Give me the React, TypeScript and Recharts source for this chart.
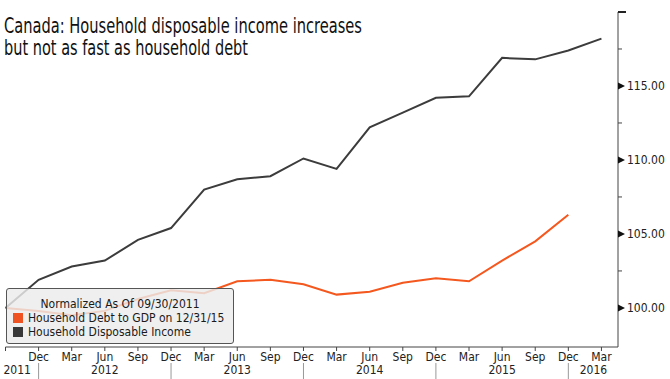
import React from 'react';
import { LineChart, Line, XAxis, YAxis } from 'recharts';

// quarter-end months, Sep 2011 .. Mar 2016
const months = ['Sep', 'Dec', 'Mar', 'Jun', 'Sep', 'Dec', 'Mar', 'Jun', 'Sep', 'Dec', 'Mar', 'Jun', 'Sep', 'Dec', 'Mar', 'Jun', 'Sep', 'Dec', 'Mar'];
const years = ['2011', '2012', '2013', '2014', '2015', '2016'];

// normalized to 100 at 09/30/2011
const incomeValues = [100.0, 101.9, 102.8, 103.2, 104.6, 105.4, 108.0, 108.7, 108.9, 110.1, 109.4, 112.2, 113.2, 114.2, 114.3, 116.9, 116.8, 117.4, 118.2];
const debtValues = [100.0, 99.8, 99.5, 99.8, 100.6, 101.2, 101.0, 101.8, 101.9, 101.6, 100.9, 101.1, 101.7, 102.0, 101.8, 103.2, 104.5, 106.3];

const yTicks = [100, 102.5, 105, 107.5, 110, 112.5, 115, 117.5, 120];

const ORANGE = '#f4581e';
const DARK = '#3c3c3c';
const FONT = "'DejaVu Sans Condensed', 'Liberation Sans', sans-serif";

const data = months.map((m, i) => ({
    i,
    month: m,
    income: incomeValues[i],
    debt: i < debtValues.length ? debtValues[i] : null,
}));

const MonthTick = ({ x, y, payload }: any) => {
    const i = payload.value;
    const isDec = months[i] === 'Dec';
    let yearLabel: any = null;
    if (i === 0) yearLabel = <text x={x - 2} y={374} fontSize={12} fill="#222" fontFamily={FONT}>{years[0]}</text>;
    if (months[i] === 'Jun') {
        const yr = years[Math.floor((i - 3) / 4) + 1];
        yearLabel = <text x={x} y={374} fontSize={12} fill="#222" textAnchor="middle" fontFamily={FONT}>{yr}</text>;
    }
    if (i === months.length - 1) yearLabel = <text x={x - 8} y={374} fontSize={12} fill="#222" textAnchor="middle" fontFamily={FONT}>{years[years.length - 1]}</text>;
    return (
        <g>
            <line x1={x} x2={x} y1={y} y2={y + 4} stroke="#444" />
            {i > 0 && (
                <text x={x} y={y + 14} fontSize={12} fill="#222" textAnchor="middle" fontFamily={FONT}>{months[i]}</text>
            )}
            {isDec && <line x1={x} x2={x} y1={y + 16} y2={y + 32} stroke="#999" />}
            {yearLabel}
        </g>
    );
};

const ValueTick = ({ x, y, payload }: any) => {
    const v = payload.value;
    if (v === 120) {
        return <line x1={x} x2={x + 8} y1={y} y2={y} stroke="#222" strokeWidth={2} />;
    }
    if (v % 5 !== 0) {
        return <line x1={x} x2={x + 4} y1={y} y2={y} stroke="#444" />;
    }
    return (
        <g>
            <polygon points={`${x},${y - 3.5} ${x},${y + 3.5} ${x + 7},${y}`} fill="#111" />
            <text x={x + 9} y={y + 4.5} fontSize={12} fill="#222" fontFamily={FONT}>{v.toFixed(2)}</text>
        </g>
    );
};

export default function App() {
    return (
        <div style={{ position: 'absolute', left: 0, top: 0, width: 670, height: 379, background: '#fff', overflow: 'hidden' }}>
            <LineChart width={670} height={379} data={data} margin={{ top: 12, right: 0, bottom: 0, left: 5.5 }}>
                <XAxis
                    dataKey="i"
                    type="number"
                    domain={[0, 18.5]}
                    ticks={months.map((_, i) => i)}
                    interval={0}
                    height={32}
                    tickLine={false}
                    tickSize={0}
                    tickMargin={0}
                    axisLine={{ stroke: '#444' }}
                    tick={<MonthTick />}
                />
                <YAxis
                    orientation="right"
                    type="number"
                    domain={[97.36, 120]}
                    ticks={yTicks}
                    interval={0}
                    width={52}
                    tickLine={false}
                    tickSize={0}
                    tickMargin={0}
                    axisLine={{ stroke: '#444' }}
                    tick={<ValueTick />}
                />
                <Line type="linear" dataKey="income" stroke={DARK} strokeWidth={2} dot={false} isAnimationActive={false} />
                <Line type="linear" dataKey="debt" stroke={ORANGE} strokeWidth={2} dot={false} isAnimationActive={false} />
            </LineChart>

            <svg width={670} height={70} style={{ position: 'absolute', left: 0, top: 0 }}>
                <text x={4} y={33} fontSize={21} fill="#111" fontFamily="'DejaVu Sans', sans-serif" textLength={358} lengthAdjust="spacingAndGlyphs">
                    Canada: Household disposable income increases
                </text>
                <text x={4} y={55} fontSize={21} fill="#111" fontFamily="'DejaVu Sans', sans-serif" textLength={244} lengthAdjust="spacingAndGlyphs">
                    but not as fast as household debt
                </text>
            </svg>

            <div style={{
                position: 'absolute', left: 6, top: 288, width: 228, height: 56,
                background: 'rgba(236,236,236,0.82)', border: '1px solid #555', borderRadius: 3,
                fontFamily: FONT, fontSize: 12, color: '#1a1a1a', lineHeight: '14px', boxSizing: 'border-box'
            }}>
                <div style={{ textAlign: 'center', marginTop: 8 }}>Normalized As Of 09/30/2011</div>
                <div style={{ display: 'flex', alignItems: 'center', marginLeft: 6 }}>
                    <span style={{ width: 10, height: 10, background: '#f05322', display: 'inline-block', marginRight: 5 }} />
                    Household Debt to GDP on 12/31/15
                </div>
                <div style={{ display: 'flex', alignItems: 'center', marginLeft: 6 }}>
                    <span style={{ width: 10, height: 10, background: '#383838', display: 'inline-block', marginRight: 5 }} />
                    Household Disposable Income
                </div>
            </div>
        </div>
    );
}
